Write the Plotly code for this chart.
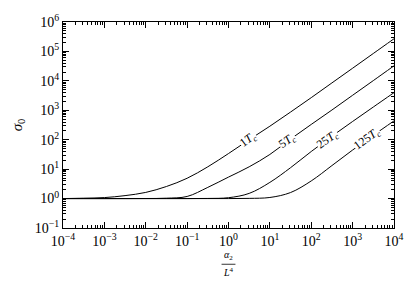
import math
import plotly.graph_objects as go

# x: alpha_2 / L^4 (half-decade grid)
alpha2_L4 = [1e-4, 3.16e-4, 1e-3, 3.16e-3, 1e-2, 3.16e-2, 1e-1, 3.16e-1, 1.0,
             3.16, 10.0, 31.6, 100.0, 316.0, 1e3, 3.16e3, 1e4]

# sigma_0
sigma_1Tc = [1.0, 1.03, 1.08, 1.26, 1.62, 2.57, 4.9, 12.0, 33.9,
             100.0, 288.0, 871.0, 2690.0, 8510.0, 26900.0, 85100.0, 269000.0]
sigma_5Tc = [1.0, 1.0, 1.0, 1.0, 1.005, 1.03, 1.18, 2.4, 5.37,
             12.0, 31.6, 105.0, 331.0, 1020.0, 3240.0, 10200.0, 32400.0]
sigma_25Tc = [1.0, 1.0, 1.0, 1.0, 1.0, 1.0, 1.0, 1.01, 1.07,
              1.5, 3.55, 11.2, 39.8, 132.0, 417.0, 1290.0, 3980.0]
sigma_125Tc = [1.0, 1.0, 1.0, 1.0, 1.0, 1.0, 1.0, 1.0, 1.0,
               1.015, 1.09, 1.6, 3.98, 13.2, 44.7, 141.0, 437.0]

labels = ["1<i>T<sub>c</sub></i>", "5<i>T<sub>c</sub></i>",
          "25<i>T<sub>c</sub></i>", "125<i>T<sub>c</sub></i>"]
label_x = [3.0, 27.0, 245.0, 2290.0]

x_exps = [-4, -3, -2, -1, 0, 1, 2, 3, 4]
y_exps = [-1, 0, 1, 2, 3, 4, 5, 6]

FONT = "Liberation Serif"


def sup_label(e):
    s = str(e).replace("-", "\u2212")
    return "10<sup>" + s + "</sup>"


fig = go.Figure()
series = [sigma_1Tc, sigma_5Tc, sigma_25Tc, sigma_125Tc]
for ys in series:
    fig.add_trace(go.Scatter(x=alpha2_L4, y=ys, mode="lines",
                             line=dict(color="black", width=1, shape="spline", smoothing=1.0),
                             showlegend=False, hoverinfo="skip"))

# curve labels sitting on the lines, white box breaks the line
xs_log = [math.log10(v) for v in alpha2_L4]
for lab, lx, ys in zip(labels, label_x, series):
    lxl = math.log10(lx)
    yl = [math.log10(v) for v in ys]
    ly = yl[-1]
    for i in range(len(xs_log) - 1):
        if xs_log[i] <= lxl <= xs_log[i + 1]:
            t = (lxl - xs_log[i]) / (xs_log[i + 1] - xs_log[i])
            ly = yl[i] + t * (yl[i + 1] - yl[i])
            break
    fig.add_annotation(x=lxl, y=ly, xref="x", yref="y", text=lab, showarrow=False,
                       textangle=-36, bgcolor="white", borderpad=0,
                       font=dict(family=FONT, size=12, color="black"))

# x-axis title as a small fraction
fig.add_annotation(x=0.5, y=-0.172, xref="paper", yref="paper", text="<i>α</i><sub>2</sub>",
                   showarrow=False, yanchor="bottom", borderpad=0,
                   font=dict(family=FONT, size=10, color="black"))
fig.add_annotation(x=0.5, y=-0.18, xref="paper", yref="paper", text="<i>L</i><sup>4</sup>",
                   showarrow=False, yanchor="top", borderpad=0,
                   font=dict(family=FONT, size=10, color="black"))
fig.add_shape(type="line", xref="paper", yref="paper", x0=0.479, x1=0.521, y0=-0.176, y1=-0.176,
              line=dict(color="black", width=0.8))

x_minor = [m * 10.0 ** e for e in range(-4, 4) for m in range(2, 10)]
y_minor = [m * 10.0 ** e for e in range(-1, 6) for m in range(2, 10)]

axis_common = dict(type="log", showline=True, linecolor="black", linewidth=1, mirror="ticks",
                   ticks="inside", ticklen=6, tickcolor="black", tickwidth=1, showgrid=False,
                   zeroline=False, tickfont=dict(family=FONT, size=14, color="black"))

fig.update_xaxes(range=[-4, 4], tickvals=[10.0 ** e for e in x_exps],
                 ticktext=[sup_label(e) for e in x_exps],
                 minor=dict(tickvals=x_minor, ticks="inside", ticklen=3, tickcolor="black",
                            tickwidth=0.8, showgrid=False),
                 **axis_common)
fig.update_yaxes(range=[-1, 6], tickvals=[10.0 ** e for e in y_exps],
                 ticktext=[sup_label(e) for e in y_exps],
                 minor=dict(tickvals=y_minor, ticks="inside", ticklen=3, tickcolor="black",
                            tickwidth=0.8, showgrid=False),
                 title=dict(text="<i>σ</i><sub>0</sub>", standoff=8,
                            font=dict(family=FONT, size=15, color="black")),
                 **axis_common)

fig.update_layout(width=416, height=281, margin=dict(l=63, r=22, t=16, b=53),
                  font=dict(family=FONT, color="black"),
                  plot_bgcolor="white", paper_bgcolor="white")

fig.write_html("out.html", config={"displayModeBar": False},
               post_script="document.body.style.margin='0';")
